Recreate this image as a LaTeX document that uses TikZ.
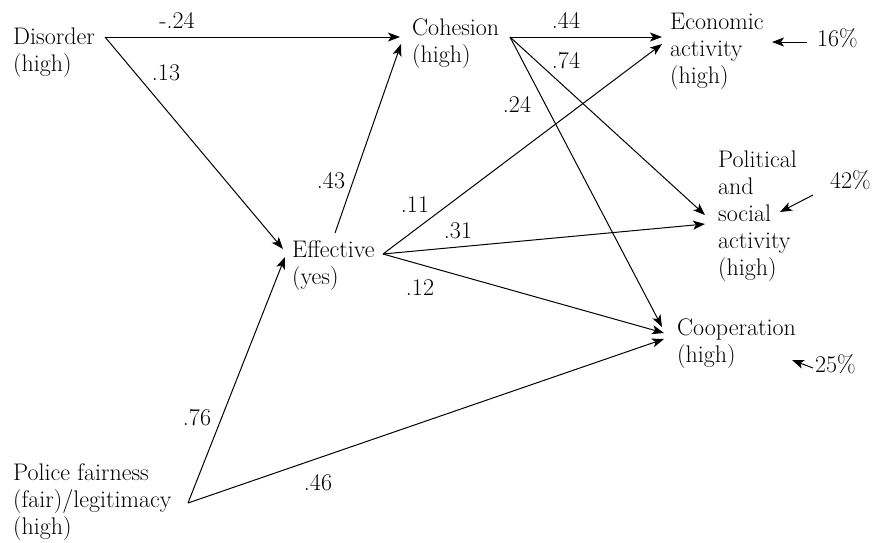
\documentclass[tikz,border=0pt]{standalone}
\usepackage{tikz}
\usetikzlibrary{arrows.meta, positioning}
\tikzset{
x=1pt, y=-1pt, % one unit is one pixel of the layout, y runs down
path/.style={-{Stealth[length=12pt, width=9pt, inset=3pt]}, line width=1pt}, % the arrows between variables
var/.style={anchor=north west, yshift=18.9pt, align=left, inner sep=0pt, execute at begin node=\strut, font=\fontsize{24}{27}\selectfont}, % a variable, placed at its first baseline
coef/.style={anchor=base, inner sep=0pt, font=\fontsize{24}{27}\selectfont}, % a path coefficient
}

\begin{document}
\begin{tikzpicture}
                \useasboundingbox (0,0) rectangle (873,542);

                % variables
                \node[var] (disorder) at (13,47) {Disorder\\(high)};
                \node[var] (cohesion) at (412,37) {Cohesion\\(high)};
                \node[var] (effective) at (292,259) {Effective\\(yes)};
                \node[var] (police) at (13,482) {Police fairness\\(fair)/legitimacy\\(high)};
                \node[var] (econ) at (670,32) {Economic\\activity\\(high)};
                \node[var] (polsoc) at (718,170) {Political\\and\\social\\activity\\(high)};
                \node[var] (coop) at (677,337) {Cooperation\\(high)};

                % unexplained variance
                \node[var] (econres) at (817,46) {16\%};
                \node[var] (polsocres) at (830,188) {42\%};
                \node[var] (coopres) at (815,372) {25\%};

                % ports where the arrows meet the texts
                \coordinate (disorder-out) at (105,37);
                \coordinate (cohesion-in) at (400,37);
                \coordinate (cohesion-in2) at (401,44);
                \coordinate (cohesion-out) at (510,37);
                \coordinate (effective-in) at (283,249);
                \coordinate (effective-in2) at (285,257);
                \coordinate (effective-up) at (335,233);
                \coordinate (effective-out) at (383,254);
                \coordinate (police-out) at (188,503);
                \coordinate (econ-in) at (662,37);
                \coordinate (econ-in2) at (662,44);
                \coordinate (polsoc-in) at (705,215);
                \coordinate (polsoc-in2) at (705,224);
                \coordinate (coop-in) at (662,327);
                \coordinate (coop-in2) at (664,333);
                \coordinate (coop-in3) at (664,339);
                \coordinate (econres-out) at (807,42);
                \coordinate (econres-in) at (772,42);
                \coordinate (polsocres-out) at (813,195);
                \coordinate (polsocres-in) at (780,212);
                \coordinate (coopres-out) at (813,368);
                \coordinate (coopres-in) at (792,360);

                % paths
                \draw[path] (disorder-out) -- (cohesion-in);
                \draw[path] (disorder-out) -- (effective-in);
                \draw[path] (effective-up) -- (cohesion-in2);
                \draw[path] (cohesion-out) -- (econ-in);
                \draw[path] (cohesion-out) -- (polsoc-in);
                \draw[path] (cohesion-out) -- (coop-in);
                \draw[path] (effective-out) -- (econ-in2);
                \draw[path] (effective-out) -- (polsoc-in2);
                \draw[path] (effective-out) -- (coop-in2);
                \draw[path] (police-out) -- (effective-in2);
                \draw[path] (police-out) -- (coop-in3);
                \draw[path] (econres-out) -- (econres-in);
                \draw[path] (polsocres-out) -- (polsocres-in);
                \draw[path] (coopres-out) -- (coopres-in);

                % coefficients
                \node[coef] (c-dc) at (177,28) {-.24};
                \node[coef] (c-de) at (166,80) {.13};
                \node[coef] (c-ce) at (566,28) {.44};
                \node[coef] (c-cp) at (566,68) {.74};
                \node[coef] (c-co) at (517,112) {.24};
                \node[coef] (c-ec) at (331,188) {.43};
                \node[coef] (c-ee) at (415,212) {.11};
                \node[coef] (c-ep) at (458,238) {.31};
                \node[coef] (c-eo) at (420,295) {.12};
                \node[coef] (c-pe) at (197,425) {.76};
                \node[coef] (c-po) at (318,490) {.46};
            \end{tikzpicture}
\end{document}
